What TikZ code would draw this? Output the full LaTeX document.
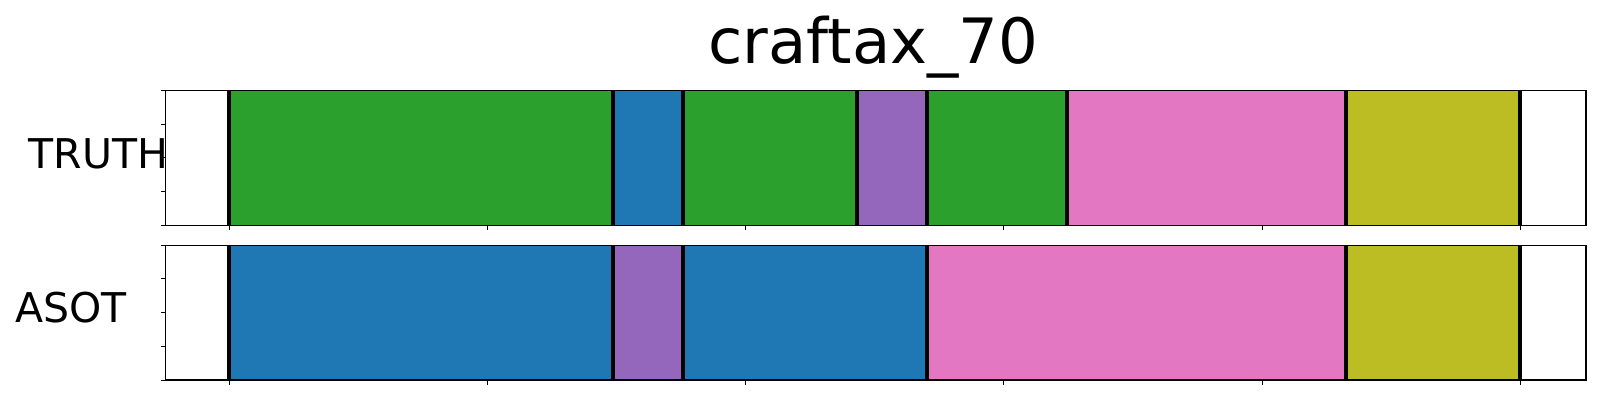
\documentclass[tikz,border=0pt]{standalone}
\usepackage{fontspec}
\setmainfont{DejaVu Sans}
\definecolor{tabgreen}{HTML}{2CA02C}
\definecolor{tabblue}{HTML}{1F77B4}
\definecolor{tabpurple}{HTML}{9467BD}
\definecolor{tabpink}{HTML}{E377C2}
\definecolor{tabolive}{HTML}{BCBD22}
\begin{document}
\begin{tikzpicture}[x=1pt,y=-1pt,
  axframe/.style={draw=black,line width=1.1pt},
  segline/.style={draw=black,line width=3.7pt},
  tickmark/.style={draw=black,line width=1pt},
  rowlabel/.style={inner sep=0pt,anchor=base west,font=\fontsize{41}{48}\selectfont},
  titlelabel/.style={inner sep=0pt,anchor=base west,font=\fontsize{62.5}{70}\selectfont}]
\useasboundingbox[fill=white] (0,0) rectangle (1600,400);
% title
\node[titlelabel] (title) at (708,63.3) {craftax\_70};
% TRUTH row
\foreach \a/\b/\c in {229/613/tabgreen,613/683/tabblue,683/857/tabgreen,857/927/tabpurple,927/1067/tabgreen,1067/1345.7/tabpink,1345.7/1520/tabolive}
  \fill[\c] (\a,90.3) rectangle (\b,225.3);
\foreach \x in {229,613,683,857,927,1067,1345.7,1520}
  \draw[segline] (\x,90.3) -- (\x,225.3);
\draw[axframe] (165.5,90.3) rectangle (1586,225.3);
% ASOT row
\foreach \a/\b/\c in {229/613/tabblue,613/683/tabpurple,683/927/tabblue,927/1345.7/tabpink,1345.7/1520/tabolive}
  \fill[\c] (\a,245.3) rectangle (\b,380);
\foreach \x in {229,613,683,927,1345.7,1520}
  \draw[segline] (\x,245.3) -- (\x,380);
\draw[axframe] (165.5,245.3) rectangle (1586,380);
% ticks
\foreach \k in {0,...,5}{
  \draw[tickmark] ({229.3+258.2*\k},225.3) -- ++(0,4.7);
  \draw[tickmark] ({229.3+258.2*\k},380) -- ++(0,4.7);
}
\foreach \k in {0,...,4}{
  \draw[tickmark] (165.5,{90.3+33.75*\k}) -- ++(-4.5,0);
  \draw[tickmark] (165.5,{245.3+33.675*\k}) -- ++(-4.5,0);
}
% labels
\node[rowlabel] (truth) at (28.5,168.3) {TRUTH};
\node[rowlabel] (asot) at (15.2,322.7) {ASOT};
\end{tikzpicture}
\end{document}
